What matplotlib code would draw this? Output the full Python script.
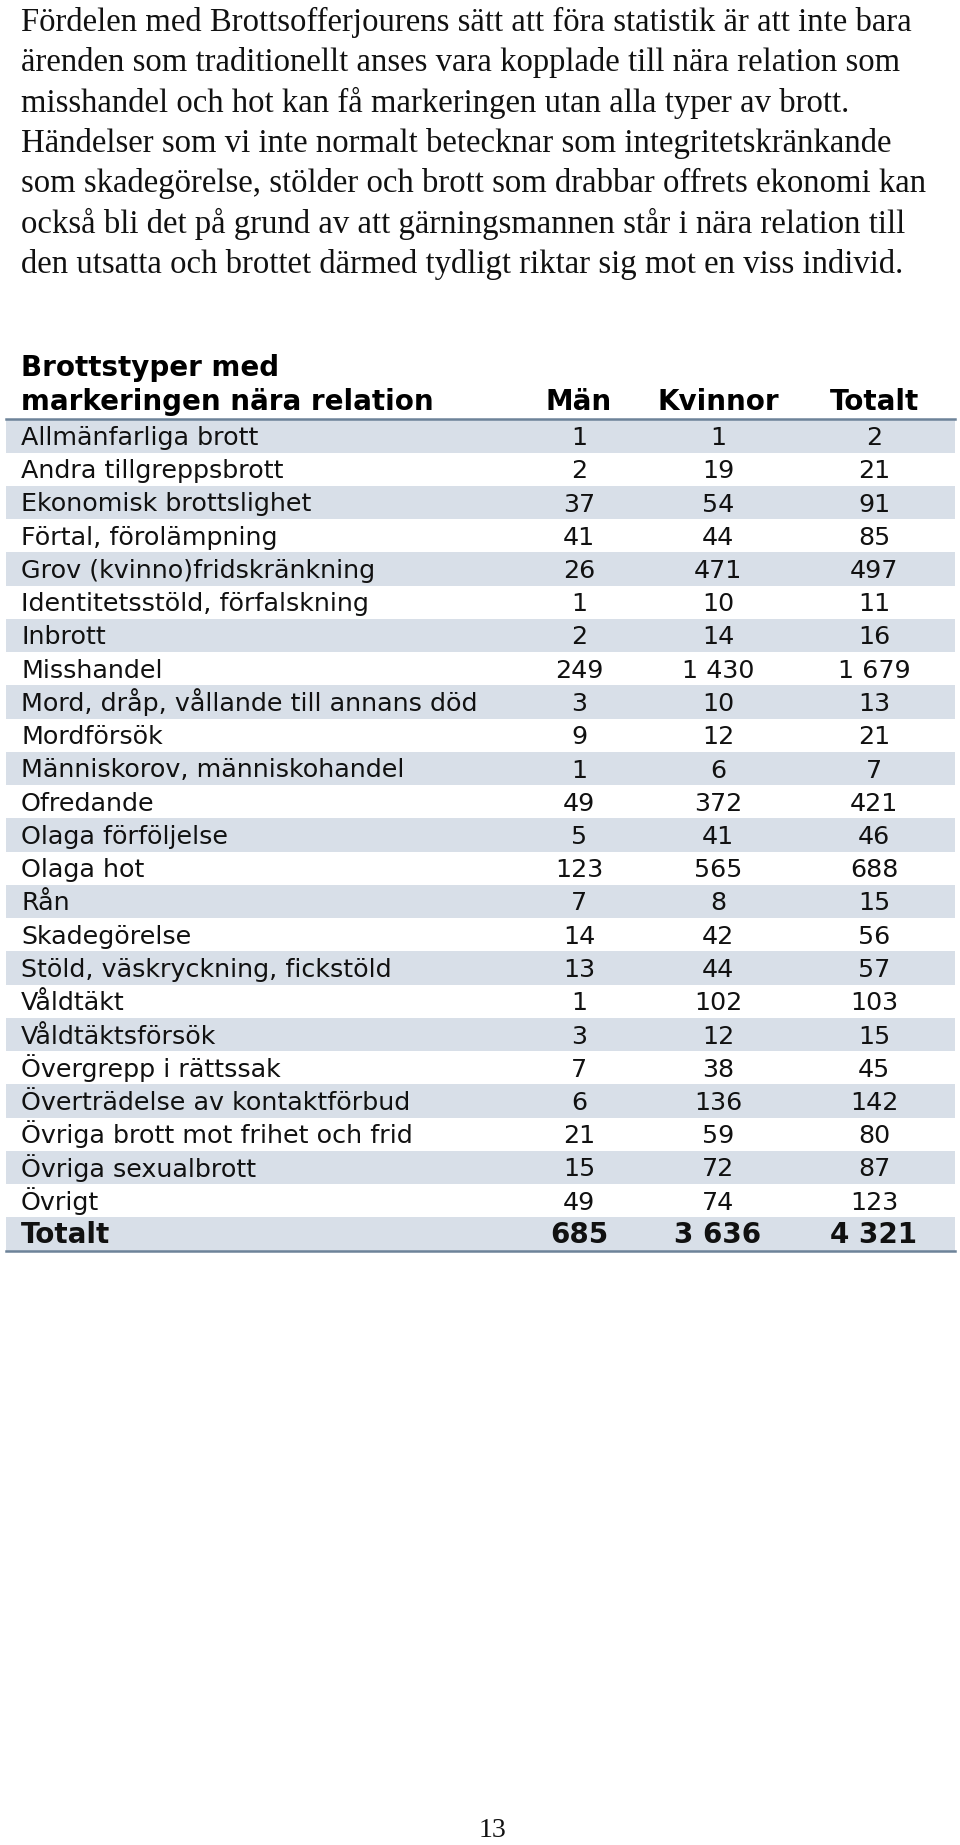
import matplotlib.pyplot as plt
from matplotlib.patches import Rectangle

# --- data ---
stycke = [
    "Fördelen med Brottsofferjourens sätt att föra statistik är att inte bara",
    "ärenden som traditionellt anses vara kopplade till nära relation som",
    "misshandel och hot kan få markeringen utan alla typer av brott.",
    "Händelser som vi inte normalt betecknar som integritetskränkande",
    "som skadegörelse, stölder och brott som drabbar offrets ekonomi kan",
    "också bli det på grund av att gärningsmannen står i nära relation till",
    "den utsatta och brottet därmed tydligt riktar sig mot en viss individ.",
]

kolumner = ["Män", "Kvinnor", "Totalt"]
brottstyper = [
    "Allmänfarliga brott", "Andra tillgreppsbrott", "Ekonomisk brottslighet",
    "Förtal, förolämpning", "Grov (kvinno)fridskränkning",
    "Identitetsstöld, förfalskning", "Inbrott", "Misshandel",
    "Mord, dråp, vållande till annans död", "Mordförsök",
    "Människorov, människohandel", "Ofredande", "Olaga förföljelse",
    "Olaga hot", "Rån", "Skadegörelse", "Stöld, väskryckning, fickstöld",
    "Våldtäkt", "Våldtäktsförsök", "Övergrepp i rättssak",
    "Överträdelse av kontaktförbud", "Övriga brott mot frihet och frid",
    "Övriga sexualbrott", "Övrigt",
]
man = [1, 2, 37, 41, 26, 1, 2, 249, 3, 9, 1, 49, 5, 123, 7, 14, 13, 1, 3, 7, 6, 21, 15, 49]
kvinnor = [1, 19, 54, 44, 471, 10, 14, 1430, 10, 12, 6, 372, 41, 565, 8, 42, 44, 102, 12, 38, 136, 59, 72, 74]
totalt = [2, 21, 91, 85, 497, 11, 16, 1679, 13, 21, 7, 421, 46, 688, 15, 56, 57, 103, 15, 45, 142, 80, 87, 123]
summa = [685, 3636, 4321]


def fmt(v):
    return f"{v:,}".replace(",", " ")


W, H = 960, 1845
fig = plt.figure(figsize=(W / 100, H / 100), dpi=100)
ax = fig.add_axes([0, 0, 1, 1])
ax.set_xlim(0, W)
ax.set_ylim(H, 0)
ax.axis("off")

# stycke överst (baslinjer)
serif = ["Liberation Serif", "DejaVu Serif"]
for i, rad in enumerate(stycke):
    ax.text(21, 31 + i * 40.3, rad, fontsize=23.6, family=serif, va="baseline", ha="left", color="#111111")

# tabell
sans = ["DejaVu Sans"]
x0, x1 = 6, 955
kol_x = [579, 718, 874]
rad_h = 33.25
y_forsta = 436
fs = 18.3
fs_b = 20
skugga = "#d8dfe8"
linje = "#6d8399"
dy = 9  # från radmitt till baslinje

ax.text(21, 367 + dy, "Brottstyper med", fontsize=fs_b, family=sans, weight="bold", va="baseline")
ax.text(21, 401 + dy, "markeringen nära relation", fontsize=fs_b, family=sans, weight="bold", va="baseline")
for x, k in zip(kol_x, kolumner):
    ax.text(x, 401 + dy, k, fontsize=fs_b, family=sans, weight="bold", va="baseline", ha="center")

rader = list(zip(brottstyper, man, kvinnor, totalt)) + [("Totalt", *summa)]
for i, (namn, m, k, t) in enumerate(rader):
    yc = y_forsta + i * rad_h
    if i % 2 == 0:
        ax.add_patch(Rectangle((x0, yc - rad_h / 2), x1 - x0, rad_h, color=skugga, lw=0, zorder=0))
    total = namn == "Totalt"
    vikt = "bold" if total else "normal"
    storlek = fs_b if total else fs
    ax.text(21, yc + dy, namn, fontsize=storlek, family=sans, weight=vikt, va="baseline", color="#111111")
    for x, v in zip(kol_x, (m, k, t)):
        ax.text(x, yc + dy, fmt(v), fontsize=storlek, family=sans, weight=vikt,
                va="baseline", ha="center", color="#111111")

ax.plot([x0, x1], [y_forsta - rad_h / 2, y_forsta - rad_h / 2], color=linje, lw=1.8)
yb = y_forsta + (len(rader) - 1) * rad_h + rad_h / 2
ax.plot([x0, x1], [yb, yb], color=linje, lw=1.8)

ax.text(492, 1837, "13", fontsize=20, family=serif, va="baseline", ha="center", color="#111111")

fig.savefig("out.png", dpi=100, facecolor="white")
